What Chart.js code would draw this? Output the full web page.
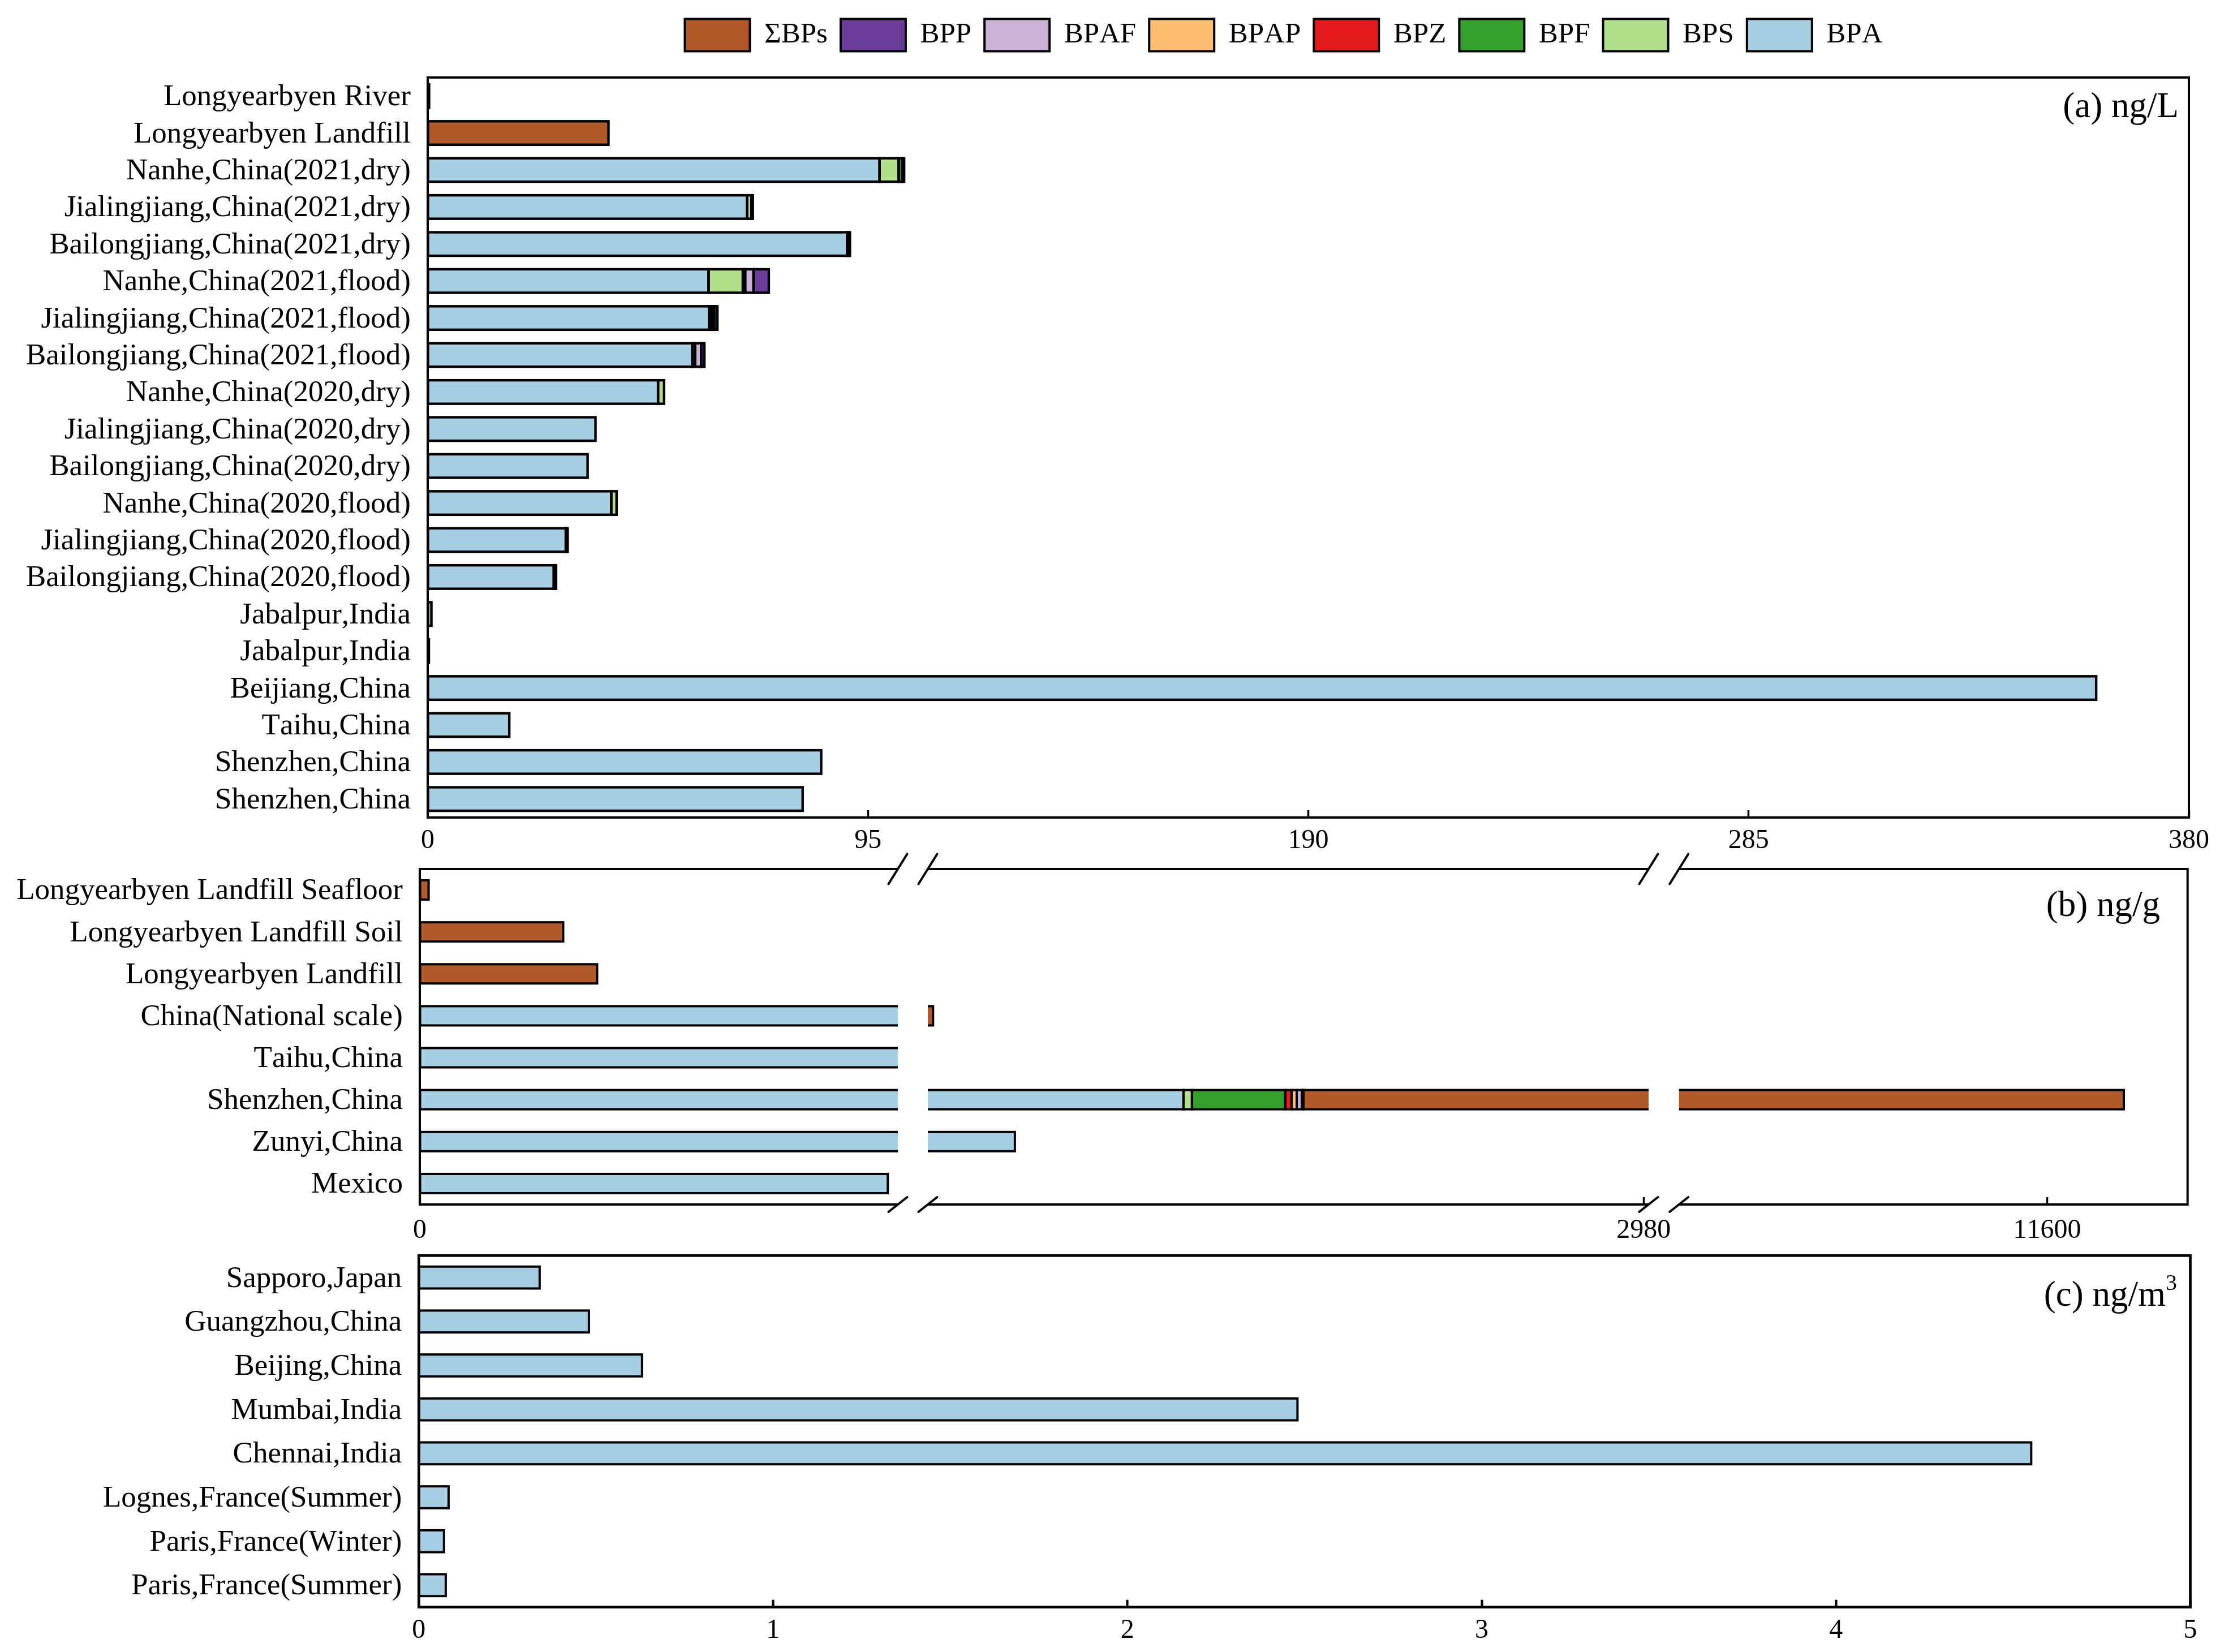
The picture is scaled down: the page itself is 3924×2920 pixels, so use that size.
<!DOCTYPE html>
<html><head><meta charset="utf-8">
<style>html,body{margin:0;padding:0;background:#fff}#wrap{position:relative;width:3924px;height:2920px;background:#fff}canvas{position:absolute;left:0;top:0;font-kerning:none}</style>
<script src="https://cdn.jsdelivr.net/npm/chart.js@4/dist/chart.umd.js"></script>
</head><body><div id="wrap"><canvas id="ca" width="3924" height="2920"></canvas><canvas id="cb" width="3924" height="2920"></canvas><canvas id="cc" width="3924" height="2920"></canvas></div>
<script>
// ---------- data ----------
const seriesNames = ['BPA','BPS','BPF','BPZ','BPAP','BPAF','BPP','ΣBPs'];
const seriesColors = ['#a6cee3','#b2df8a','#33a02c','#e31a1c','#fdbf6f','#cab2d6','#6a3d9a','#b15928'];

const categoriesA = ['Longyearbyen River','Longyearbyen Landfill','Nanhe,China(2021,dry)','Jialingjiang,China(2021,dry)','Bailongjiang,China(2021,dry)','Nanhe,China(2021,flood)','Jialingjiang,China(2021,flood)','Bailongjiang,China(2021,flood)','Nanhe,China(2020,dry)','Jialingjiang,China(2020,dry)','Bailongjiang,China(2020,dry)','Nanhe,China(2020,flood)','Jialingjiang,China(2020,flood)','Bailongjiang,China(2020,flood)','Jabalpur,India','Jabalpur,India','Beijiang,China','Taihu,China','Shenzhen,China','Shenzhen,China'];
const aBPA  = [0.3,0,97.5,68.9,90.5,60.6,60.7,57.1,49.7,36.2,34.5,39.6,29.8,27.2,0.8,0.25,360,17.6,84.9,80.9];
const aBPS  = [0,0,4.1,0.95,0.3,7.4,0.5,0.6,1.3,0,0,1.15,0.2,0.25,0,0,0,0,0,0];
const aBPF  = [0,0,0.8,0.3,0.3,0.5,0.5,0,0,0,0,0,0.2,0.25,0,0,0,0,0,0];
const aBPZ  = [0,0,0,0,0,0,0,0,0,0,0,0,0,0,0,0,0,0,0,0];
const aBPAP = [0,0,0,0,0,0,0,0,0,0,0,0,0,0,0,0,0,0,0,0];
const aBPAF = [0,0,0.4,0,0,1.8,0.1,1.3,0,0,0,0,0,0,0,0,0,0,0,0];
const aBPP  = [0,0,0,0,0,3.3,0.7,0.7,0,0,0,0,0,0,0,0,0,0,0,0];
const aSum  = [0,39,0,0,0,0,0,0,0,0,0,0,0,0,0,0,0,0,0,0];
const ticksA = [0,95,190,285,380];

const categoriesB = ['Longyearbyen Landfill Seafloor','Longyearbyen Landfill Soil','Longyearbyen Landfill','China(National scale)','Taihu,China','Shenzhen,China','Zunyi,China','Mexico'];
const bBPA  = [0,0,0,105,105,1135,459,97.9];
const bBPS  = [0,0,0,0,0,34,0,0];
const bBPF  = [0,0,0,0,0,374,0,0];
const bBPZ  = [0,0,0,0,0,25,0,0];
const bBPAP = [0,0,0,0,0,21,0,0];
const bBPAF = [0,0,0,0,0,21,0,0];
const bBPP  = [0,0,0,0,0,6,0,0];
const bSum  = [1.85,30,37.1,26,0,11752,0,0];
const ticksB = [0,2980,11600];

const categoriesC = ['Sapporo,Japan','Guangzhou,China','Beijing,China','Mumbai,India','Chennai,India','Lognes,France(Summer)','Paris,France(Winter)','Paris,France(Summer)'];
const cBPA = [0.341,0.480,0.630,2.480,4.551,0.084,0.071,0.076];
const ticksC = [0,1,2,3,4,5];

// ---------- piecewise axis for panel (b) ----------
const FAMILY = "'Liberation Serif'";
Chart.defaults.font.family = FAMILY;
Chart.defaults.color = '#000';

class BrokenScale extends Chart.LinearScale {
  static id = 'broken';
  static defaults = Chart.LinearScale.defaults;
  _stops(){ return this.options.stops; }
  getPixelForValue(v){
    const s = this._stops();
    let i = 0;
    while (i < s.length-2 && v > s[i+1][0]) i++;
    const a = s[i], b = s[i+1];
    const f = a[1] + (v-a[0])/(b[0]-a[0])*(b[1]-a[1]);
    return this.left + f*this.width;
  }
  getValueForPixel(p){
    const s = this._stops(), f = (p-this.left)/this.width;
    let i = 0;
    while (i < s.length-2 && f > s[i+1][1]) i++;
    const a = s[i], b = s[i+1];
    return a[0] + (f-a[1])/(b[1]-a[1])*(b[0]-a[0]);
  }
}
Chart.register(BrokenScale);

function panelPlugin(cfg){
  return {
    id:'panel',
    beforeLayout(chart){
      chart.ctx.fontKerning = 'none';
      if (cfg.legendHeight && chart.legend && !chart.legend._fixed){
        const l = chart.legend, f = l.fit.bind(l);
        l.fit = function(){ f(); this.height = cfg.legendHeight; };
        l._fixed = true;
      }
    },
    beforeDraw(chart){
      chart.ctx.fontKerning = 'none';
      if (cfg.legendHeight){ chart.legend.left = 1187.5; chart.legend.right = 3924+1187.5; chart.legend.top = cfg.legendTop; }
    },
    afterDatasetsDraw(chart){
      const ctx = chart.ctx, area = chart.chartArea;
      ctx.save();
      // outline of every bar, centred on its edges
      ctx.strokeStyle = '#000'; ctx.lineWidth = cfg.barLine; ctx.lineJoin='miter';
      chart.data.datasets.forEach((d,i)=>{
        chart.getDatasetMeta(i).data.forEach((el,k)=>{
          if (!d.data[k]) return;
          const p = el.getProps(['x','y','base','height'],true);
          ctx.strokeRect(Math.min(p.base,p.x), p.y-p.height/2, Math.abs(p.x-p.base), p.height);
        });
      });
      // frame
      ctx.lineWidth = cfg.frameLine;
      ctx.strokeRect(area.left, area.top, area.right-area.left, area.bottom-area.top);
      // axis breaks
      if (cfg.breaks){
        const x = chart.scales.x;
        cfg.breaks.forEach(br=>{
          const p0 = x.getPixelForValue(br[0]), p1 = x.getPixelForValue(br[1]);
          ctx.fillStyle = '#fff';
          ctx.fillRect(p0, area.top-4, p1-p0, area.bottom-area.top+8);
          ctx.lineWidth = 4; ctx.lineCap='round';
          [p0,p1].forEach(px=>{
            ctx.beginPath(); ctx.moveTo(px-16.5, area.top+26.5); ctx.lineTo(px+16.5, area.top-26.5); ctx.stroke();
            ctx.beginPath(); ctx.moveTo(px-16.5, area.bottom+13); ctx.lineTo(px+16.5, area.bottom-13); ctx.stroke();
          });
        });
      }
      // panel caption
      ctx.fillStyle = '#000'; ctx.textBaseline='alphabetic';
      ctx.font = '63px '+FAMILY; ctx.textAlign='right';
      ctx.fillText(cfg.caption, cfg.capX, cfg.capY);
      if (cfg.sup){ ctx.font='40px '+FAMILY; ctx.textAlign='left'; ctx.fillText(cfg.sup, cfg.capX, cfg.capY-28); }
      ctx.restore();
    }
  };
}

function makeChart(id, labels, series, ticks, cfg){
  const datasets = series.map((vals,i)=>({
    label: cfg.names[i], data: vals, backgroundColor: cfg.colors[i], borderColor:'#000', borderWidth:0,
    categoryPercentage:1, barPercentage:cfg.barPct
  }));
  const xOpts = {
    type: cfg.scaleType || 'linear', stacked:true, min:ticks[0], max:cfg.xMax,
    position:'bottom',
    afterBuildTicks: s => { s.ticks = ticks.map(v=>({value:v})); },
    afterFit: s => { s.height = 70; s.paddingLeft = 0; s.paddingRight = 0; },
    border:{display:false},
    grid:{drawOnChartArea:false, drawTicks:true, tickLength:-13, tickWidth:cfg.frameLine-0.5, tickColor:'#000'},
    ticks:{autoSkip:false, maxRotation:0, minRotation:0, padding:cfg.xPad, color:'#000', font:{size:48,family:FAMILY}, callback:v=>String(v)}
  };
  if (cfg.stops) xOpts.stops = cfg.stops;
  return new Chart(document.getElementById(id),{
    type:'bar',
    data:{labels, datasets},
    plugins:[panelPlugin(cfg)],
    options:{
      indexAxis:'y', responsive:false, animation:false, devicePixelRatio:1,
      layout:{padding:{left:0,right:3924-cfg.right,top:cfg.top,bottom:2920-cfg.bottom-70}},
      events:[],
      plugins:{
        tooltip:{enabled:false},
        legend: cfg.legend ? {
          display:true, position:'top', align:'start', reverse:true,
          labels:{
            boxWidth:115, boxHeight:57, padding:23, color:'#000', font:{size:51,family:FAMILY},
            generateLabels: c => Chart.defaults.plugins.legend.labels.generateLabels(c).map(l=>({...l,lineWidth:4,strokeStyle:'#000',fontColor:'#000'}))
          }
        } : {display:false}
      },
      scales:{
        x:xOpts,
        y:{
          type:'category', stacked:true, offset:true,
          afterFit: s => { s.width = cfg.left; },
          border:{display:false},
          grid:{display:false, drawTicks:false},
          ticks:{autoSkip:false, padding:cfg.yPad, labelOffset:2.5, color:'#000', font:{size:53,family:FAMILY}}
        }
      }
    }
  });
}

makeChart('ca', categoriesA, [aBPA,aBPS,aBPF,aBPZ,aBPAP,aBPAF,aBPP,aSum], ticksA, {
  names:seriesNames, colors:seriesColors, barPct:0.635, xMax:380,
  left:756, right:3869, top:0, bottom:1445, legend:true, legendHeight:137, legendTop:10.5,
  barLine:4.4, frameLine:4, xPad:26, yPad:30, caption:'(a) ng/L', capX:3851, capY:207
});

// value stops and their position as a share of the panel width
const PANEL_L = 742, PANEL_W = 3866.7-742;
const frac = px => (px-PANEL_L)/PANEL_W;
makeChart('cb', categoriesB, [bBPA,bBPS,bBPF,bBPZ,bBPAP,bBPAF,bBPP,bSum], ticksB, {
  names:seriesNames, colors:seriesColors, barPct:0.459, xMax:14840, scaleType:'broken',
  stops:[[0,frac(742)],[100,frac(1587)],[110,frac(1640)],[3000,frac(2914)],[3100,frac(2967.7)],[14840,frac(3866.7)]],
  breaks:[[100,110],[3000,3100]],
  left:742, right:3866.7, top:1536, bottom:2129, barLine:4, frameLine:4, xPad:31, yPad:30,
  caption:'(b) ng/g', capX:3818, capY:1619
});

makeChart('cc', categoriesC, [cBPA], ticksC, {
  names:['BPA'], colors:['#a6cee3'], barPct:0.498, xMax:5,
  left:740.3, right:3871.5, top:2219.3, bottom:2840.7, barLine:4, frameLine:4.7, xPad:26, yPad:30,
  caption:'(c) ng/m', sup:'3', capX:3828, capY:2308
});
</script></body></html>
